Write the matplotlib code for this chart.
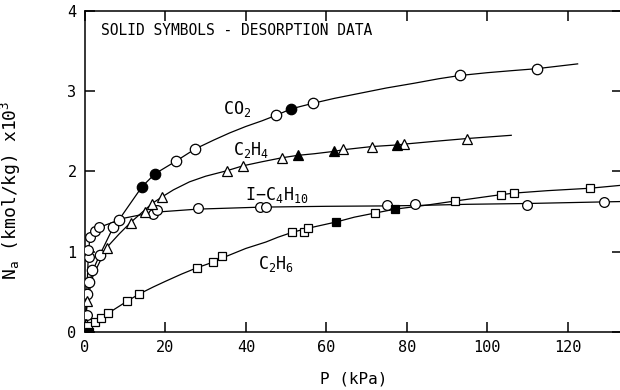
import numpy as np
import matplotlib.pyplot as plt

plt.rcParams['font.family'] = ['DejaVu Sans Mono']
plt.rcParams['mathtext.fontset'] = 'custom'
plt.rcParams['mathtext.rm'] = 'DejaVu Sans Mono'
plt.rcParams['mathtext.it'] = 'DejaVu Sans Mono'

# fitted curves (P in kPa, N in kmol/kg x10^3)
co2_curve_p = [0, 0.3, 0.8, 1.8, 3.7, 7, 8.5, 14.2, 17.4, 22.7, 27.4, 32, 36, 40, 44, 47.6, 51.3, 56.8, 62, 68, 75, 82, 88, 93.2, 100, 106, 112.3, 122.5]
co2_curve_n = [0, 0.21, 0.5, 0.75, 0.96, 1.3, 1.40, 1.81, 1.97, 2.13, 2.28, 2.39, 2.48, 2.56, 2.63, 2.70, 2.78, 2.85, 2.91, 2.97, 3.04, 3.10, 3.155, 3.195, 3.23, 3.255, 3.28, 3.34]
c2h4_curve_p = [0, 0.5, 2, 5.4, 8.5, 11.5, 14.9, 16.7, 19.1, 22, 26, 30, 35.4, 39.3, 44, 49, 52.9, 57, 62, 64.2, 71.4, 77.7, 79.4, 87, 95.1, 106]
c2h4_curve_n = [0, 0.38, 0.7, 1.05, 1.22, 1.37, 1.52, 1.60, 1.68, 1.77, 1.87, 1.94, 2.01, 2.07, 2.12, 2.17, 2.20, 2.22, 2.25, 2.27, 2.31, 2.33, 2.34, 2.375, 2.41, 2.45]
ic4_curve_p = [0, 0.3, 0.8, 1.2, 2.5, 5, 10, 17, 28, 44, 60, 75, 82, 95, 110, 129, 134]
ic4_curve_n = [0, 0.3, 0.9, 1.18, 1.26, 1.33, 1.42, 1.49, 1.53, 1.555, 1.565, 1.57, 1.575, 1.59, 1.60, 1.62, 1.625]
c2h6_curve_p = [0, 0.8, 2.5, 4, 5.7, 10.4, 13.4, 17, 20, 24, 27.9, 31.9, 34.1, 40, 45, 48, 51.5, 55.3, 62.5, 67, 72, 77.2, 85, 91.9, 103.4, 106.8, 115, 125.5, 134]
c2h6_curve_n = [0, 0.07, 0.12, 0.17, 0.23, 0.38, 0.47, 0.56, 0.63, 0.72, 0.8, 0.87, 0.92, 1.04, 1.12, 1.18, 1.24, 1.29, 1.37, 1.43, 1.48, 1.53, 1.58, 1.63, 1.71, 1.73, 1.76, 1.79, 1.83]

# measured points: open = adsorption, solid = desorption
co2_p = [0.5, 1.0, 1.8, 3.7, 7.0, 8.5, 22.7, 27.4, 47.6, 56.8, 93.2, 112.3]
co2_n = [0.47, 0.62, 0.77, 0.96, 1.31, 1.40, 2.13, 2.28, 2.70, 2.85, 3.20, 3.28]
co2_des_p = [14.2, 17.4, 51.3]
co2_des_n = [1.81, 1.97, 2.78]

ic4_p = [0.4, 0.9, 0.8, 1.3, 2.5, 3.6, 16.9, 17.8, 28, 43.5, 45, 75, 82, 110, 129]
ic4_n = [0.21, 0.93, 1.02, 1.18, 1.26, 1.31, 1.47, 1.52, 1.55, 1.56, 1.56, 1.58, 1.59, 1.58, 1.62]

c2h4_p = [0.2, 0.5, 5.4, 11.5, 14.9, 16.7, 19.1, 35.4, 39.3, 49, 64.2, 71.4, 79.4, 95.1]
c2h4_n = [0.1, 0.38, 1.05, 1.36, 1.5, 1.60, 1.68, 2.01, 2.07, 2.17, 2.28, 2.31, 2.34, 2.41]
c2h4_des_p = [52.9, 62, 77.7]
c2h4_des_n = [2.20, 2.25, 2.33]

c2h6_p = [0.8, 2.5, 4.0, 5.7, 10.4, 13.4, 27.9, 31.9, 34.1, 51.5, 54.5, 55.5, 72, 91.9, 103.4, 106.8, 125.5]
c2h6_n = [0.07, 0.12, 0.17, 0.23, 0.38, 0.47, 0.80, 0.87, 0.94, 1.25, 1.25, 1.29, 1.48, 1.63, 1.71, 1.73, 1.79]
c2h6_des_p = [1.0, 62.5, 77.2]
c2h6_des_n = [0.0, 1.37, 1.53]

x_ticks = [0, 20, 40, 60, 80, 100, 120]
y_ticks = [0, 1, 2, 3, 4]

fig = plt.figure(figsize=(6.2, 3.9), dpi=100)
ax = fig.add_axes([0.137, 0.149, 0.866, 0.823])

lw = 0.9
for cp, cn in [(co2_curve_p, co2_curve_n), (c2h4_curve_p, c2h4_curve_n),
               (ic4_curve_p, ic4_curve_n), (c2h6_curve_p, c2h6_curve_n)]:
    ax.plot(cp, cn, color='black', lw=lw, zorder=2)

ax.plot(co2_p, co2_n, 'o', ms=7.5, mfc='white', mec='black', mew=lw, zorder=3)
ax.plot(co2_des_p, co2_des_n, 'o', ms=7.5, mfc='black', mec='black', mew=lw, zorder=3)
ax.plot(ic4_p, ic4_n, 'o', ms=7, mfc='white', mec='black', mew=lw, zorder=3)
ax.plot(c2h4_p, c2h4_n, '^', ms=6.5, mfc='white', mec='black', mew=lw, zorder=3)
ax.plot(c2h4_des_p, c2h4_des_n, '^', ms=6.5, mfc='black', mec='black', mew=lw, zorder=3)
ax.plot(c2h6_p, c2h6_n, 's', ms=5.5, mfc='white', mec='black', mew=lw, zorder=3)
ax.plot(c2h6_des_p, c2h6_des_n, 's', ms=5.5, mfc='black', mec='black', mew=lw, zorder=3)

ax.text(34.4, 2.72, r'$\mathrm{CO_2}$', fontsize=12)
ax.text(36.9, 2.20, r'$\mathrm{C_2H_4}$', fontsize=12)
ax.text(39.9, 1.64, r'$\mathrm{I\!-\!C_4H_{10}}$', fontsize=12)
ax.text(43.0, 0.78, r'$\mathrm{C_2H_6}$', fontsize=12)
ax.text(0.03, 0.925, 'SOLID SYMBOLS - DESORPTION DATA', transform=ax.transAxes, fontsize=10.5)

ax.set_xlim(0, 133.5)
ax.set_ylim(0, 4)
ax.set_xticks(x_ticks)
ax.set_yticks(y_ticks)
ax.tick_params(direction='in', length=7, width=1.1, top=True, right=True,
               labelsize=11, pad=6)
for s in ax.spines.values():
    s.set_linewidth(1.1)

ax.set_xlabel('P (kPa)', fontsize=11.5, labelpad=12)
ax.set_ylabel(r'$\mathrm{N_a}$ (kmol/kg) x10$^{\mathrm{3}}$', fontsize=13)
ax.yaxis.set_label_coords(-0.115, 0.44)

fig.savefig('out.png', dpi=100)
